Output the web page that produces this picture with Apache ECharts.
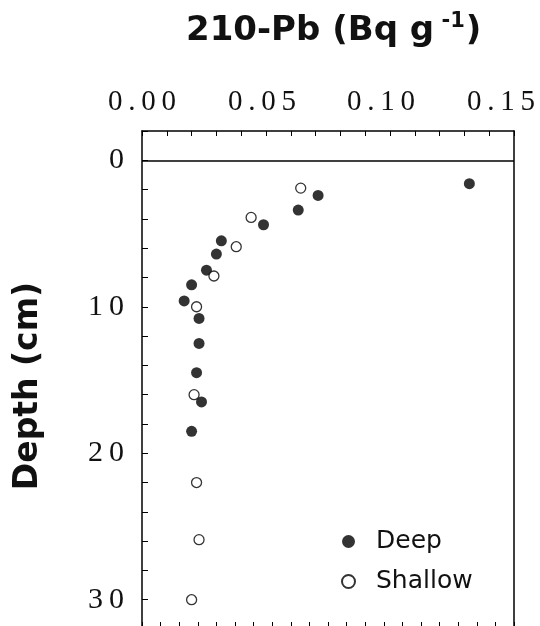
<!DOCTYPE html>
<html>
<head>
<meta charset="utf-8">
<script src="https://cdn.jsdelivr.net/npm/echarts@6/dist/echarts.min.js"></script>
<style>html,body{margin:0;padding:0;background:#fff}#c{width:540px;height:626px}</style>
</head>
<body>
<div id="c"></div>
<script>
// Data: [activity (Bq g-1), depth (cm)]
const deepActivity  = [0.132, 0.071, 0.063, 0.049, 0.032, 0.030, 0.026, 0.020, 0.017, 0.023, 0.023, 0.022, 0.024, 0.020];
const deepDepth     = [1.6, 2.4, 3.4, 4.4, 5.5, 6.4, 7.5, 8.5, 9.6, 10.8, 12.5, 14.5, 16.5, 18.5];
const shallowActivity = [0.064, 0.044, 0.038, 0.029, 0.022, 0.021, 0.022, 0.023, 0.020];
const shallowDepth    = [1.9, 3.9, 5.9, 7.9, 10.0, 16.0, 22.0, 25.9, 30.0];
const xTickLabels = ['0.00', '0.05', '0.10', '0.15'];
const yTickLabels = ['0', '10', '20', '30'];
const seriesNames = ['Deep', 'Shallow'];

const spaced = s => s.split('').join('\u2009');
const deepData = deepActivity.map((v, i) => [v, deepDepth[i]]);
const shallowData = shallowActivity.map((v, i) => [v, shallowDepth[i]]);

const chart = echarts.init(document.getElementById('c'), null, {renderer: 'canvas'});
const serif = '"Liberation Serif", "DejaVu Serif", serif';
const sans = '"DejaVu Sans", sans-serif';
const lineStyle = {color: '#000', width: 1.5};
const xLabelFont = {fontFamily: serif, fontSize: 29, color: '#111'};

chart.setOption({
  animation: false,
  backgroundColor: '#fff',
  title: {
    text: '210-Pb (Bq g{s| -1})',
    left: 181, top: 6,
    textStyle: {
      fontFamily: sans, fontSize: 34, fontWeight: 'bold', color: '#111',
      rich: {s: {fontFamily: sans, fontSize: 21, fontWeight: 'bold', color: '#111', padding: [0, 1, 19, 0]}}
    }
  },
  grid: {left: 142, right: 26, top: 131, height: 498, containLabel: false, outerBoundsMode: 'none'},
  legend: {
    orient: 'vertical', left: 336, top: 524, itemWidth: 13, itemHeight: 13, itemGap: 15,
    icon: 'circle',
    data: seriesNames,
    textStyle: {fontFamily: sans, fontSize: 25, color: '#111', padding: [0, 0, 0, 16]}
  },
  xAxis: [{
    type: 'value', position: 'top', min: 0, max: 0.15, interval: 0.01,
    axisLine: {show: true, onZero: false, lineStyle: lineStyle},
    axisTick: {show: true, inside: true, length: 5, lineStyle: {color: '#000', width: 1}},
    splitLine: {show: false},
    axisLabel: {
      margin: 14, ...xLabelFont,
      formatter: v => {
        const k = Math.round(v * 100);
        return k % 5 === 0 ? '{t' + (k / 5) + '|' + spaced(xTickLabels[k / 5]) + '}' : '';
      },
      rich: {
        t0: {...xLabelFont, padding: [0, 0, 0, 0]},
        t1: {...xLabelFont, padding: [0, 8, 0, 0]},
        t2: {...xLabelFont, padding: [0, 18, 0, 0]},
        t3: {...xLabelFont, padding: [0, 26, 0, 0]}
      }
    }
  }, {
    type: 'value', position: 'bottom', min: 0, max: 0.15, interval: 0.0075,
    axisLine: {show: true, onZero: false, lineStyle: lineStyle},
    axisTick: {show: true, inside: true, length: 7, lineStyle: {color: '#000', width: 1}},
    axisLabel: {show: false}, splitLine: {show: false}
  }],
  yAxis: [{
    type: 'value', inverse: true, min: -2, max: 32, interval: 2,
    name: 'Depth (cm)', nameLocation: 'middle', nameGap: 97, nameRotate: 90,
    nameTextStyle: {fontFamily: sans, fontSize: 33, fontWeight: 'bold', color: '#111', padding: [0, 12, 0, 0]},
    axisLine: {show: true, onZero: false, lineStyle: lineStyle},
    axisTick: {show: true, inside: true, length: 6, lineStyle: {color: '#000', width: 1}},
    splitLine: {show: false},
    axisLabel: {
      margin: 18, fontFamily: serif, fontSize: 30, color: '#111',
      formatter: v => (v >= 0 && v % 10 === 0) ? spaced(yTickLabels[v / 10]) : ''
    }
  }, {
    type: 'value', inverse: true, min: -2, max: 32, position: 'right',
    axisLine: {show: true, onZero: false, lineStyle: lineStyle},
    axisTick: {show: false}, axisLabel: {show: false}, splitLine: {show: false}
  }],
  series: [{
    name: seriesNames[0], type: 'scatter', symbol: 'circle', symbolSize: 11,
    itemStyle: {color: '#000'},
    data: deepData,
    markLine: {
      silent: true, symbol: ['none', 'none'], label: {show: false},
      lineStyle: {color: '#000', width: 1.5, type: 'solid'},
      data: [{yAxis: 0}]
    }
  }, {
    name: seriesNames[1], type: 'scatter', symbol: 'circle', symbolSize: 10,
    itemStyle: {color: '#fff', borderColor: '#000', borderWidth: 1.3},
    data: shallowData
  }]
});
</script>
</body>
</html>
